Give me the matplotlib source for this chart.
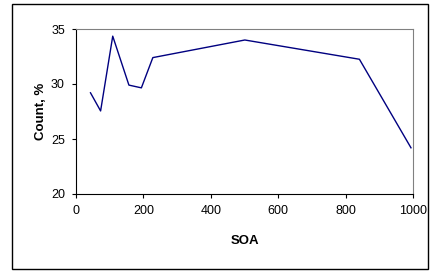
import matplotlib
matplotlib.use('Agg')
from matplotlib import pyplot as plt
from matplotlib.patches import Rectangle

plt.rcParams['font.family'] = ['Liberation Sans', 'DejaVu Sans']

# data
soa = [43, 73, 109, 157, 194, 228, 501, 841, 994]
count = [29.2, 27.55, 34.35, 29.9, 29.65, 32.4, 34.0, 32.25, 24.2]
xticks = [0, 200, 400, 600, 800, 1000]
yticks = [20, 25, 30, 35]

fig = plt.figure(figsize=(4.3, 2.73), dpi=100)
W, H = 430, 273
ax = fig.add_axes([76 / W, 1 - 194 / H, (413 - 76) / W, (194 - 29) / H])

ax.plot(soa, count, color='#000080', linewidth=1)
ax.set_xlim(0, 1000)
ax.set_ylim(20, 35)
ax.set_xticks(xticks)
ax.set_yticks(yticks)
ax.tick_params(labelsize=9, direction='out', length=3, width=0.8, pad=5)
ax.spines['top'].set_color('#808080')
ax.spines['right'].set_color('#808080')
for s in ['left', 'bottom']:
    ax.spines[s].set_color('black')
for s in ax.spines.values():
    s.set_linewidth(0.8)

ax.set_xlabel('SOA', fontsize=9.5, fontweight='bold', labelpad=13)
ax.set_ylabel('Count, %', fontsize=9.5, fontweight='bold', labelpad=3)

# outer chart frame
fig.patches.append(Rectangle((12 / W, 1 - 269 / H), (428 - 12) / W, (269 - 3.5) / H,
                             transform=fig.transFigure, fill=False,
                             edgecolor='black', linewidth=1))

fig.savefig('out.png', dpi=100)
